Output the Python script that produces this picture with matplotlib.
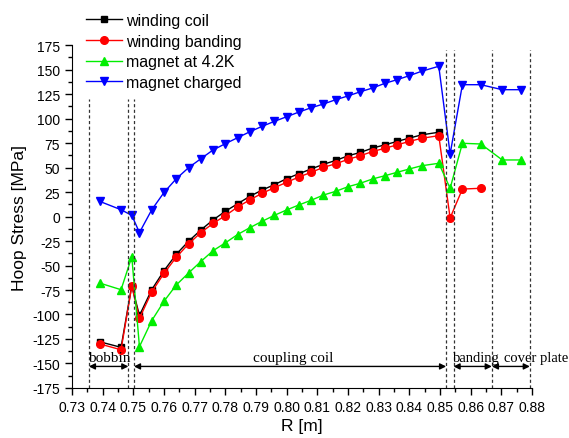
import matplotlib
matplotlib.use("Agg")
from matplotlib import pyplot as plt
from matplotlib.ticker import MultipleLocator

# radius positions [m]
r_coil = [0.739, 0.746, 0.7495, 0.752, 0.756, 0.760, 0.764, 0.768, 0.772, 0.776,
          0.780, 0.784, 0.788, 0.792, 0.796, 0.800, 0.804, 0.808, 0.812, 0.816,
          0.820, 0.824, 0.828, 0.832, 0.836, 0.840, 0.844, 0.8496]
r_outer = [0.8533, 0.8573, 0.8633, 0.8703, 0.8763]

winding_coil = [-127.8, -133.5, -70.6, -101, -74.7, -55.3, -38.6, -25.3, -13.8, -3.5,
                5.3, 13, 20.6, 27, 32.5, 38.6, 43.7, 48.5, 53.3, 57.2,
                61.9, 65.4, 69.8, 73.1, 76.6, 80, 83.3, 86]
winding_banding = [-130, -136, -71, -104, -77, -58, -41.6, -28, -16.5, -7,
                   0.8, 9.7, 17, 23.7, 29.4, 34.9, 40.3, 45.1, 50.2, 53.8,
                   58.3, 62, 66.3, 69.6, 73.1, 76.6, 79.8, 82.5,
                   -1.5, 28, 28.8]
magnet_42k = [-67.9, -74.7, -41, -132.8, -106.3, -86.5, -69.9, -57.7, -46, -34.9,
              -26.9, -18.4, -11.4, -4.9, 1.2, 6.7, 11.8, 16.6, 21.9, 25.7,
              30.4, 33.9, 38.3, 41.6, 45.1, 48.5, 51.8, 54.3,
              28.8, 74.7, 74, 57.7, 57.7]
magnet_charged = [15.5, 6.9, 1.2, -16.4, 6.8, 24.5, 38.5, 49.8, 58.9, 67.9,
                  74.3, 80.4, 86.5, 92, 97.1, 101.8, 106.6, 111, 114.8, 119.2,
                  123, 127.3, 131.1, 135.9, 139.6, 143.7, 148.2, 153.3,
                  63.8, 134.5, 134.5, 129.4, 129.4]

# region boundaries and labels
bounds = [0.7355, 0.7484, 0.7502, 0.8520, 0.8544, 0.8669, 0.8793]
regions = [("bobbin", 0.7355, 0.7484, 0.7423, 11),
           ("coupling coil", 0.7502, 0.8520, 0.802, 11),
           ("banding", 0.8544, 0.8669, 0.8619, 10.5),
           ("cover plate", 0.8669, 0.8793, 0.8812, 10.5)]

plt.rcParams["font.family"] = ["Liberation Sans", "DejaVu Sans"]
plt.rcParams["axes.unicode_minus"] = False

fig = plt.figure(figsize=(5.69, 4.39), dpi=100)
ax = fig.add_axes([0.1265, 0.1139, 0.8085, 0.7813])

ax.plot(r_coil, winding_coil, "-s", color="black", lw=1, ms=4.5, label="winding coil")
ax.plot(r_coil + r_outer[:3], winding_banding, "-o", color="red", lw=1, ms=5.5,
        label="winding banding")
ax.plot(r_coil + r_outer, magnet_42k, "-^", color="#00ee00", lw=1, ms=6,
        label="magnet at 4.2K")
ax.plot(r_coil + r_outer, magnet_charged, "-v", color="blue", lw=1, ms=6,
        label="magnet charged")

for i, b in enumerate(bounds):
    top = 120 if i < 3 else 170
    ax.plot([b, b], [-175, top], color="#333333", lw=0.9, ls=(0, (2.5, 2)))

for name, x1, x2, xt, fs in regions:
    ax.annotate("", xy=(x1, -153), xytext=(x2, -153),
                arrowprops=dict(arrowstyle="<|-|>", color="black", lw=1,
                                shrinkA=0, shrinkB=0, mutation_scale=9))
    ax.text(xt, -147, name, ha="center", va="baseline", fontsize=fs,
            family="Liberation Serif")

ax.set_xlim(0.73, 0.88)
ax.set_ylim(-175, 175)
ax.xaxis.set_major_locator(MultipleLocator(0.01))
ax.xaxis.set_minor_locator(MultipleLocator(0.005))
ax.yaxis.set_major_locator(MultipleLocator(25))
ax.yaxis.set_minor_locator(MultipleLocator(12.5))
ax.xaxis.set_major_formatter(plt.FuncFormatter(lambda v, p: "%.2f" % v))
ax.tick_params(which="major", direction="out", length=5, width=1, labelsize=10)
ax.tick_params(which="minor", direction="out", length=3, width=1)
ax.spines["top"].set_visible(False)
ax.spines["right"].set_visible(False)

ax.set_xlabel("R [m]", fontsize=12.5, labelpad=3)
ax.set_ylabel("Hoop Stress [MPa]", fontsize=12.5, labelpad=4)

fig.legend(loc="upper left", bbox_to_anchor=(0.135, 0.99), frameon=False,
           fontsize=11.5, handlelength=2.2, labelspacing=0.35, handletextpad=0.3,
           borderaxespad=0.2)

fig.savefig("out.png", dpi=100)
